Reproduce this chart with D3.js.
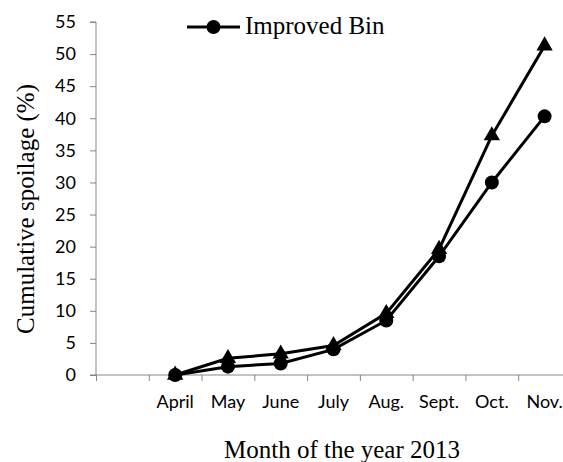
<!DOCTYPE html>
<html>
<head>
<meta charset="utf-8">
<script src="https://cdn.jsdelivr.net/npm/d3@7"></script>
<style>
    body { margin: 0; background: #fff; }
    .axis path, .axis line { stroke: #868686; }
    .axis text { font-family: Lato, sans-serif; font-size: 18px; fill: #000; }
    .title { font-family: "Liberation Serif", "Times New Roman", serif; font-size: 25px; fill: #000; }
</style>
</head>
<body>
<div id="chart-area"></div>
<script>
// categories on the x axis (first slot is left empty)
const months = ['', 'April', 'May', 'June', 'July', 'Aug.', 'Sept.', 'Oct.', 'Nov.'];
// months that carry data
const dataMonths = ['April', 'May', 'June', 'July', 'Aug.', 'Sept.', 'Oct.', 'Nov.'];
// cumulative spoilage (%)
const improvedBin = [0, 1.3, 1.8, 4.0, 8.5, 18.5, 30.0, 40.3];
const otherBin = [0, 2.6, 3.3, 4.6, 9.6, 19.6, 37.3, 51.3];
const yTicks = [0, 5, 10, 15, 20, 25, 30, 35, 40, 45, 50, 55];

window.addEventListener('DOMContentLoaded', (event) => {

    const margin = {
        top: 22,
        right: 0,
        bottom: 87,
        left: 96
    };

    const width = 475;
    const height = 353;

    const svg = d3.select('#chart-area')
        .append('svg')
        .attr('width', 563)
        .attr('height', 462);

    const chart = svg.append('g')
        .attr('transform', `translate(${margin.left},${margin.top})`);

    const y = d3.scaleLinear()
        .domain([0, 55])
        .range([height, 0]);

    const x = d3.scaleBand()
        .domain(months)
        .range([0, width])
        .padding(0);

    // tick marks sit between categories
    const xEdges = d3.scaleLinear()
        .domain([0, months.length])
        .range([0, width]);

    chart.append('g')
        .attr('class', 'axis left')
        .call(d3.axisLeft(y).tickValues(yTicks).tickSize(6).tickPadding(14))
        .call(g => g.select('.domain').attr('d', `M-6,${height}H0V0H-6`));

    chart.append('g')
        .attr('class', 'axis bottom')
        .attr('transform', `translate(0, ${height})`)
        .call(d3.axisBottom(xEdges).tickValues(d3.range(0, months.length + 1)).tickSize(6).tickFormat(''))
        .call(g => g.select('.domain').attr('d', `M0,0H${width}`));

    chart.append('g')
        .attr('class', 'axis bottom labels')
        .attr('transform', `translate(0, ${height})`)
        .call(d3.axisBottom(x).tickSize(0).tickPadding(20))
        .call(g => g.select('.domain').remove());

    const px = (d, i) => x(dataMonths[i]) + x.bandwidth() / 2;

    const line = d3.line()
        .x(px)
        .y((d) => y(d));

    // triangle series
    chart.append('path')
        .datum(otherBin)
        .attr('fill', 'none')
        .attr('stroke', '#000')
        .attr('stroke-width', 3)
        .attr('d', line);

    chart.selectAll('.tri')
        .data(otherBin)
        .enter()
        .append('path')
        .attr('class', 'tri')
        .attr('d', d3.symbol().type(d3.symbolTriangle).size(115))
        .attr('transform', (d, i) => `translate(${px(d, i)},${y(d)})`)
        .attr('fill', '#000');

    // improved bin (circles)
    chart.append('path')
        .datum(improvedBin)
        .attr('fill', 'none')
        .attr('stroke', '#000')
        .attr('stroke-width', 3)
        .attr('d', line);

    chart.selectAll('.dot')
        .data(improvedBin)
        .enter()
        .append('circle')
        .attr('class', 'dot')
        .attr('cx', px)
        .attr('cy', (d) => y(d))
        .attr('r', 7)
        .attr('fill', '#000');

    // legend
    const legend = svg.append('g')
        .attr('transform', 'translate(187, 27)');

    legend.append('line')
        .attr('x1', 0)
        .attr('x2', 53)
        .attr('stroke', '#000')
        .attr('stroke-width', 3);

    legend.append('circle')
        .attr('cx', 26.5)
        .attr('r', 7)
        .attr('fill', '#000');

    legend.append('text')
        .attr('class', 'title')
        .attr('x', 58)
        .attr('y', 7)
        .text('Improved Bin');

    // axis titles
    svg.append('text')
        .attr('class', 'title')
        .attr('x', 342)
        .attr('y', 458)
        .attr('text-anchor', 'middle')
        .text('Month of the year 2013');

    svg.append('text')
        .attr('class', 'title')
        .attr('transform', 'translate(34, 209) rotate(-90)')
        .attr('text-anchor', 'middle')
        .text('Cumulative spoilage (%)');

}); // End of document ready.
</script>
</body>
</html>
